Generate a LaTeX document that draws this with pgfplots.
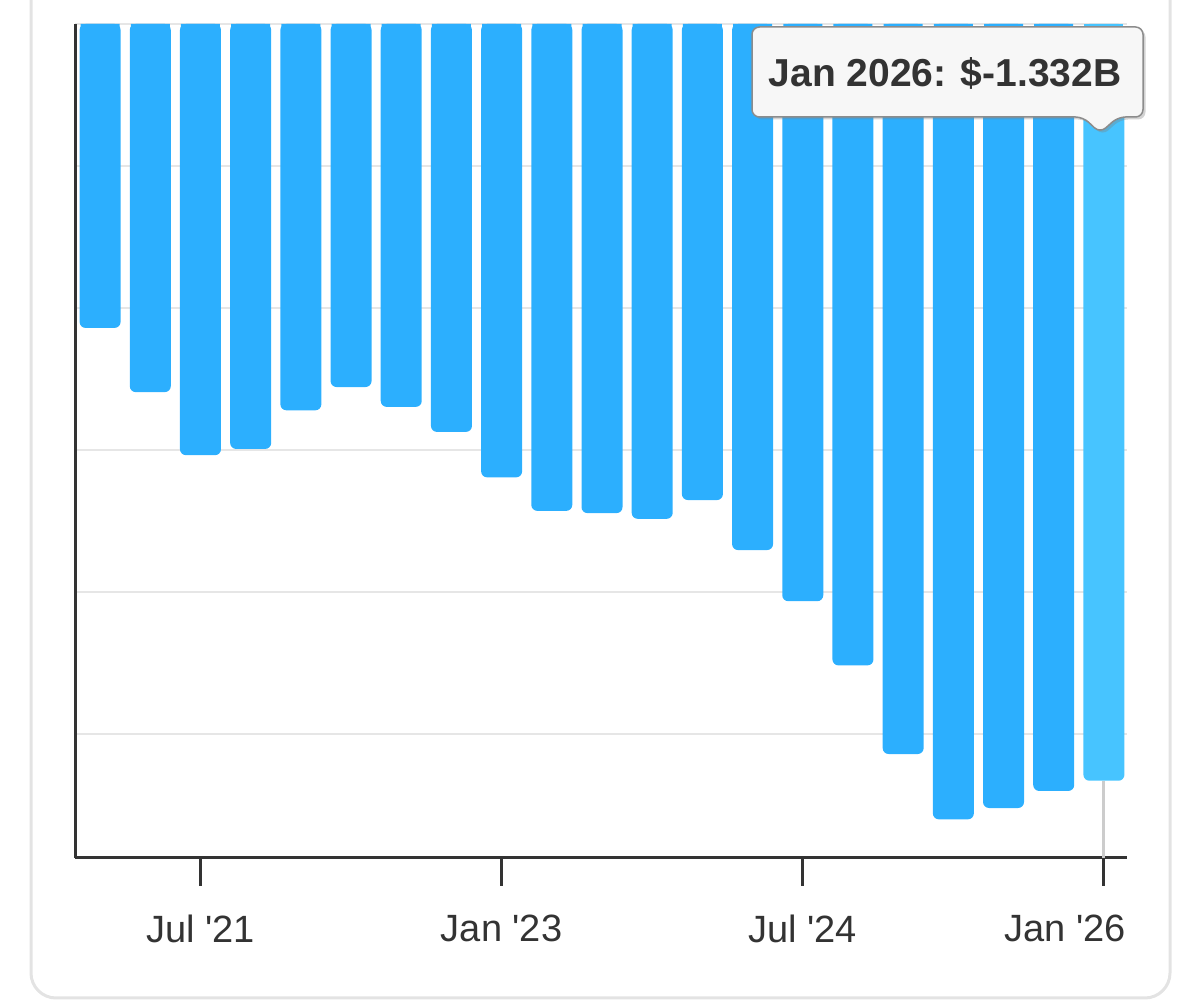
\documentclass[border=0pt]{standalone}
\usepackage{pgfplots}
\pgfplotsset{compat=1.18}
\usepackage{pgfplotstable}
\usetikzlibrary{shadows}
\usepackage{fontspec}
\setmainfont{Liberation Sans}[Ligatures=TeXOff]

\definecolor{barblue}{HTML}{2CAFFE}
\definecolor{barhover}{HTML}{47C4FF}
\definecolor{axisdark}{HTML}{333333}
\definecolor{gridgray}{HTML}{E6E6E6}
\definecolor{framegray}{HTML}{E3E3E3}
\definecolor{crossgray}{HTML}{CCCCCC}
\definecolor{tipfill}{HTML}{F7F7F7}
\definecolor{tipborder}{HTML}{8C8C8C}

% quarterly values, billions of dollars (Jan '21 = 0 ... Oct '25 = 19)
\pgfplotstableread{
q v
0 -0.535
1 -0.648
2 -0.759
3 -0.748
4 -0.680
5 -0.639
6 -0.674
7 -0.718
8 -0.798
9 -0.857
10 -0.861
11 -0.871
12 -0.838
13 -0.926
14 -1.016
15 -1.129
16 -1.285
17 -1.400
18 -1.380
19 -1.350
}\netdata

\begin{document}
\begin{tikzpicture}
\path[use as bounding box] (0,0) rectangle (720pt,601.8pt);
\begin{scope}
\clip (0,0) rectangle (720pt,601.8pt);
\draw[framegray, line width=1.8pt, rounded corners=15pt]
  (18.6pt,650pt) -- (18.6pt,3pt) -- (702pt,3pt) -- (702pt,650pt);
\end{scope}

\begin{axis}[
  at={(45pt,87pt)}, anchor=south west,
  scale only axis, width=631.2pt, height=500.4pt,
  xmin=-0.5, xmax=20.46, ymin=-1.468, ymax=0,
  axis x line*=bottom, axis y line*=left,
  axis line style={draw=axisdark, line width=1.8pt, -},
  xtick={2,8,14}, xticklabels={Jul '21,Jan '23,Jul '24},
  extra x ticks={20}, extra x tick labels={Jan '26},
  extra x tick style={xticklabel style={anchor=north east, xshift=13.2pt}},
  tick align=outside, major tick length=16.8pt,
  xtick style={draw=axisdark, line width=1.8pt},
  ytick={-1.25,-1,-0.75,-0.5,-0.25,0}, yticklabels={},
  ytick style={draw=none},
  ymajorgrids, grid style={draw=gridgray, line width=1.2pt},
  xticklabel style={anchor=north, inner sep=0pt, yshift=-17.4pt, text=axisdark,
    font=\fontsize{22.8pt}{27pt}\selectfont},
]
\addplot[crossgray, line width=1.8pt] coordinates {(20,-1.332) (20,-1.468)};
\addplot[ybar, bar width=24.6pt, bar shift=0pt, fill=barblue, draw=none,
  rounded corners=3.6pt] table[x=q, y=v] {\netdata};
\addplot[ybar, bar width=24.6pt, bar shift=0pt, fill=barhover, draw=none,
  rounded corners=3.6pt] coordinates {(20,-1.332)};
% flat tops: square-cornered caps where the bars meet the top edge
\addplot[ybar, bar width=23.4pt, bar shift=0pt, fill=barblue, draw=none]
  coordinates {(0,-0.3) (1,-0.3) (2,-0.3) (3,-0.3) (4,-0.3) (5,-0.3) (6,-0.3)
  (7,-0.3) (8,-0.3) (9,-0.3) (10,-0.3) (11,-0.3) (12,-0.3) (13,-0.3) (14,-0.3)
  (15,-0.3) (16,-0.3) (17,-0.3) (18,-0.3) (19,-0.3)};
\addplot[ybar, bar width=23.4pt, bar shift=0pt, fill=barhover, draw=none]
  coordinates {(20,-0.3)};
\end{axis}

\path[fill=tipfill, draw=tipborder, line width=0.9pt, rounded corners=4.5pt,
  drop shadow={shadow xshift=1.5pt, shadow yshift=-1.5pt, opacity=0.35}]
  (451.2pt,531.6pt) -- (451.2pt,585.6pt) -- (685.8pt,585.6pt) -- (685.8pt,531.6pt)
  -- (670.8pt,531.6pt) -- (660pt,522pt) -- (649.8pt,531.6pt) -- cycle;
\node[anchor=base, text=axisdark, inner sep=0pt,
  font=\fontsize{23.4pt}{28pt}\selectfont\bfseries] at (567pt,549.6pt)
  {Jan 2026: \$-1.332B};
\end{tikzpicture}
\end{document}
